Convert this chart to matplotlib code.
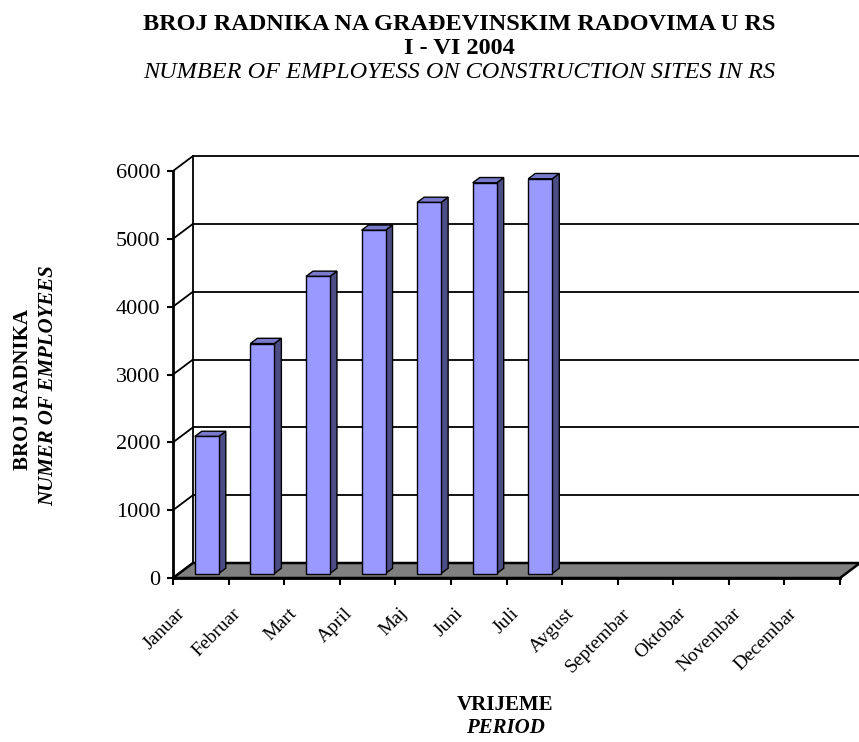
import matplotlib.pyplot as plt
from matplotlib.patches import Polygon

months = ["Januar", "Februar", "Mart", "April", "Maj", "Juni", "Juli",
          "Avgust", "Septembar", "Oktobar", "Novembar", "Decembar"]
employees = [2020, 3390, 4380, 5060, 5470, 5760, 5820]
y_ticks = [0, 1000, 2000, 3000, 4000, 5000, 6000]

plt.rcParams["font.family"] = ["Liberation Serif", "DejaVu Serif"]

W, H = 859, 742
fig = plt.figure(figsize=(W / 100, H / 100), dpi=100)
ax = fig.add_axes([173 / W, (H - 578) / H, 667 / W, 407 / H])
ax.set_xlim(0, len(months))
ax.set_ylim(0, 6000)
ax.patch.set_visible(False)

# depth of the fake 3d box, in data units
px_x = len(months) / 667
px_y = 6000 / 407
DX = 20 * px_x
DY = 15 * px_y
n = len(months)

# back wall + side wall grid
for t in y_ticks:
    ax.plot([DX, n + DX], [t + DY, t + DY], color="black", lw=1.3,
            clip_on=False, zorder=1)
    ax.plot([0, DX], [t, t + DY], color="black", lw=1.3, clip_on=False, zorder=1)
ax.plot([DX, DX], [DY, 6000 + DY], color="black", lw=1.3, clip_on=False, zorder=1)

# floor
floor = Polygon([(0, 0), (n, 0), (n + DX, DY), (DX, DY)], closed=True,
                facecolor="#808080", edgecolor="black", lw=1.8,
                clip_on=False, zorder=2)
ax.add_patch(floor)

# bars
w = 24 * px_x
f0, f1 = 0.3, 0.65
xs = [i + 0.5 + f0 * DX for i in range(len(employees))]
ax.bar(xs, employees, width=w, bottom=f0 * DY, color="#9999FF",
       edgecolor="black", lw=1.0, zorder=4, clip_on=False)
for x, v in zip(xs, employees):
    xl, xr = x - w / 2, x + w / 2
    top0 = v + f0 * DY
    side = Polygon([(xr, f0 * DY), (xr + (f1 - f0) * DX, f1 * DY),
                    (xr + (f1 - f0) * DX, v + f1 * DY), (xr, top0)],
                   closed=True, facecolor="#4D4D85", edgecolor="black",
                   lw=1.0, zorder=3, clip_on=False)
    top = Polygon([(xl, top0), (xr, top0),
                   (xr + (f1 - f0) * DX, v + f1 * DY),
                   (xl + (f1 - f0) * DX, v + f1 * DY)],
                  closed=True, facecolor="#7A7ACC", edgecolor="black",
                  lw=1.0, zorder=3, clip_on=False)
    ax.add_patch(side)
    ax.add_patch(top)

# axes lines
for s in ["top", "right"]:
    ax.spines[s].set_visible(False)
for s in ["left", "bottom"]:
    ax.spines[s].set_linewidth(2)
    ax.spines[s].set_zorder(10)

ax.set_yticks(y_ticks)
ax.set_yticklabels([str(t) for t in y_ticks], fontsize=16)
ax.tick_params(axis="y", direction="out", length=4, width=1.5, pad=5)
ax.set_xticks(range(n + 1))
ax.set_xticklabels([])
ax.tick_params(axis="x", direction="out", length=5, width=1.5)

for i, m in enumerate(months):
    ax.text(i + 0.5 - 18 * px_x, -33 * px_y, m, rotation=45,
            rotation_mode="anchor", ha="right", va="center",
            fontsize=14, clip_on=False)

# titles
fig.text(0.535, 1 - 24 / H, "BROJ RADNIKA NA GRAĐEVINSKIM RADOVIMA U RS",
         ha="center", va="center", fontsize=17.5, fontweight="bold")
fig.text(0.535, 1 - 48 / H, "I - VI 2004", ha="center", va="center",
         fontsize=17.5, fontweight="bold")
fig.text(0.535, 1 - 72 / H, "NUMBER OF EMPLOYESS ON CONSTRUCTION SITES IN RS",
         ha="center", va="center", fontsize=17.5, style="italic")

fig.text(23 / W, 1 - 390 / H, "BROJ RADNIKA", rotation=90, ha="center",
         va="center", fontsize=15, fontweight="bold")
fig.text(48 / W, 1 - 386 / H, "NUMER OF EMPLOYEES", rotation=90, ha="center",
         va="center", fontsize=15, fontweight="bold", style="italic")

fig.text(505 / W, 1 - 705 / H, "VRIJEME", ha="center", va="center",
         fontsize=15, fontweight="bold")
fig.text(505 / W, 1 - 728 / H, "PERIOD", ha="center", va="center",
         fontsize=15, fontweight="bold", style="italic")

fig.savefig("out.png", dpi=100)
